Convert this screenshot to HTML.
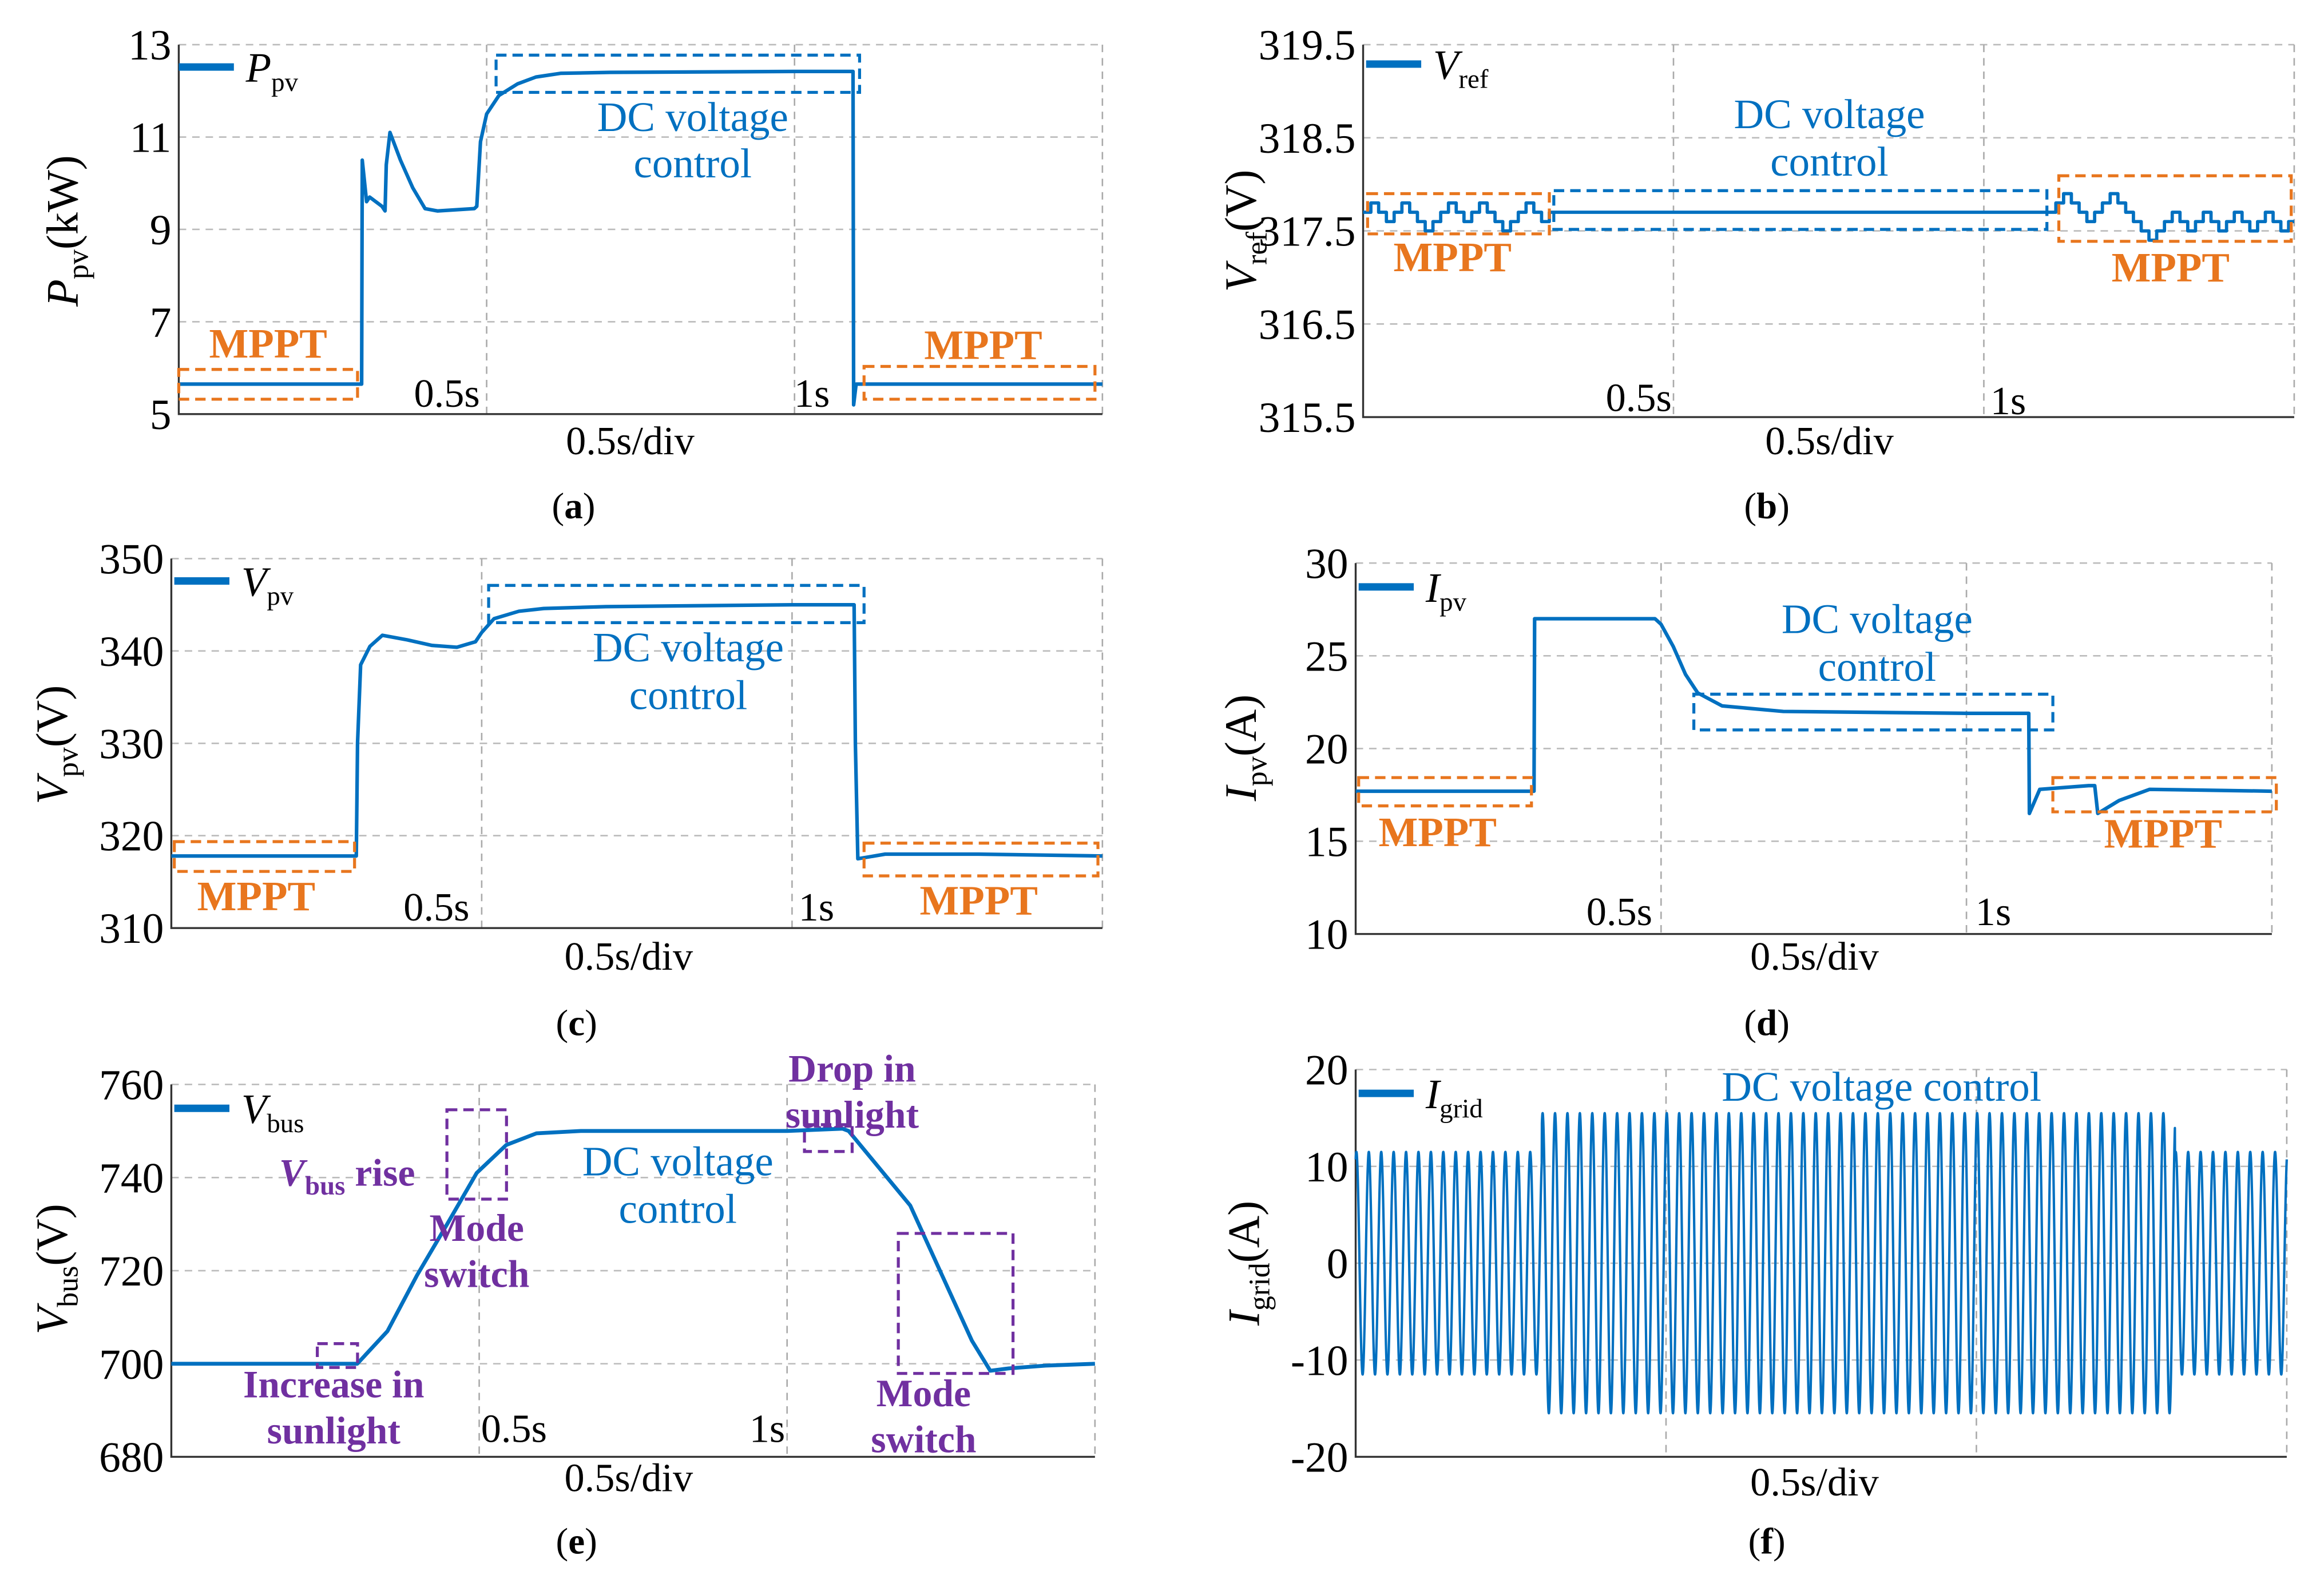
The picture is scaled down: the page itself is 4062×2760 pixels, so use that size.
<!DOCTYPE html>
<html><head><meta charset="utf-8">
<style>
html,body{margin:0;padding:0;background:#fff;}
svg{display:block;}
text{font-family:"Liberation Serif",serif;}
</style></head>
<body>
<svg id="fig" xmlns="http://www.w3.org/2000/svg" width="4062" height="2760" viewBox="0 0 1560 1060" preserveAspectRatio="none">
<rect width="1560" height="1060" fill="#fff"/>
</svg>
<script>
// ---------- data ----------
const aTime=[0,0.297,0.298,0.305,0.31,0.33,0.335,0.337,0.343,0.36,0.38,0.40,0.42,0.48,0.484,0.49,0.50,0.52,0.55,0.58,0.62,0.7,1.0,1.095,1.096,1.1,1.5];
const aVal=[5.65,5.65,10.5,9.6,9.7,9.5,9.4,10.4,11.1,10.5,9.9,9.45,9.4,9.45,9.5,10.9,11.5,11.9,12.15,12.3,12.38,12.4,12.42,12.42,5.2,5.65,5.65];
const aTicks=[13,11,9,7,5];

const bStep=0.0125;
const bMppt1=[317.7,317.8,317.7,317.6,317.7,317.8,317.7,317.6,317.5,317.6,317.7,317.8,317.7,317.6,317.7,317.8,317.7,317.6,317.5,317.6,317.7,317.8,317.7,317.6];
const bFlat=317.7;
const bMppt2=[317.8,317.9,317.8,317.7,317.6,317.7,317.8,317.9,317.8,317.7,317.6,317.5,317.4,317.5,317.6,317.7,317.6,317.5,317.6,317.7,317.6,317.5,317.6,317.7,317.6,317.5,317.6,317.7,317.6,317.5,317.6];
const bSwitch=[0.3,1.116];
const bTicks=[319.5,318.5,317.5,316.5,315.5];

const cTime=[0,0.298,0.3,0.305,0.32,0.34,0.38,0.42,0.46,0.49,0.5,0.52,0.56,0.6,0.7,1.0,1.1,1.102,1.106,1.15,1.3,1.5];
const cVal=[317.8,317.8,330,338.5,340.5,341.7,341.2,340.6,340.4,341,342,343.5,344.3,344.6,344.8,345,345,330,317.5,318,318,317.8];
const cTicks=[350,340,330,320,310];

const dTime=[0,0.292,0.293,0.49,0.5,0.52,0.54,0.56,0.6,0.7,1.0,1.102,1.103,1.12,1.2,1.21,1.215,1.25,1.3,1.5];
const dVal=[17.7,17.7,27,27,26.7,25.5,24,23,22.3,22,21.9,21.9,16.5,17.8,18,18,16.5,17.2,17.8,17.7];
const dTicks=[30,25,20,15,10];

const eTime=[0,0.302,0.351,0.399,0.448,0.496,0.544,0.593,0.665,1.0,1.09,1.10,1.20,1.30,1.33,1.36,1.42,1.5];
const eVal=[700,700,707,719,730,741,747,749.5,750,750,750.5,750,734,705,698.5,699,699.6,700];
const eTicks=[760,740,720,700,680];

const fSegTime=[0,0.3,1.32,1.5];
const fSegAmp=[11.5,15.5,11.5];
const fFreq=50;
const fTicks=[20,10,0,-10,-20];

// ---------- helpers ----------
const NS='http://www.w3.org/2000/svg';
const svg=document.getElementById('fig');
function mk(tag,attrs,parent){const e=document.createElementNS(NS,tag);for(const k in attrs)e.setAttribute(k,attrs[k]);(parent||svg).appendChild(e);return e;}
function txt(x,y,s,opt,parent){const o=Object.assign({x:x,y:y,'font-size':26,'text-anchor':'middle',fill:'#000'},opt||{});const t=mk('text',o,parent);t.textContent=s;return t;}
const BLUE='#0070C0',ORANGE='#E8761E',PURPLE='#7030A0';

function makeAxes(name,x0,x1,y0,y1,ymin,ymax,ticks,fmt,tsize){
  const g=mk('g',{});
  
  
  const ax={x0,x1,y0,y1,ymin,ymax,g,
    X:t=>x0+(t/1.5)*(x1-x0),
    Y:v=>y1-(v-ymin)/(ymax-ymin)*(y1-y0)};
  ticks.forEach(v=>{
    const y=ax.Y(v);
    if(v!==ymin){const l=mk('line',{x1:x0,x2:x1,y1:y,y2:y,stroke:'#bbb','stroke-width':1,'stroke-dasharray':'5,4'},g);
      }
    const t=txt(x0-5,y+10,fmt?fmt(v):String(v),{'text-anchor':'end','font-size':tsize||29},g);
    
  });
  [0.5,1.0,1.5].forEach(tt=>{const x=ax.X(tt);
    const l=mk('line',{x1:x,x2:x,y1:y0,y2:y1,stroke:'#aaa','stroke-width':1,'stroke-dasharray':'5,4'},g);
    });
  const axl=mk('path',{d:`M${x0},${y0} L${x0},${y1} L${x1},${y1}`,fill:'none',stroke:'#333','stroke-width':1.3},g);
  
  return ax;
}
function line(ax,ts,vs,name,w){
  const d=ts.map((t,i)=>(i?'L':'M')+ax.X(t).toFixed(2)+','+ax.Y(vs[i]).toFixed(2)).join(' ');
  const p=mk('path',{d:d,fill:'none',stroke:BLUE,'stroke-width':w||2.4,'stroke-linejoin':'round'},ax.g);
  
  return p;
}
function box(x,y,w,h,col,name){const r=mk('rect',{x,y,width:w,height:h,fill:'none',stroke:col,'stroke-width':2,'stroke-dasharray':'7,4'});
  }
function label(x,y,s,col,size,bold,name){const t=txt(x,y,s,{fill:col,'font-size':size,'font-weight':bold?'bold':'normal'});
  return t;}
function caption(x,y,letter,name){const t=mk('text',{x:x,y:y,'font-size':25,'text-anchor':'middle',fill:'#000'});
  
  t.appendChild(document.createTextNode('('));const b=mk('tspan',{'font-weight':'bold'},t);b.textContent=letter;
  t.appendChild(document.createTextNode(')'));}
function legend(x,y,main,sub,name){
  const l=mk('line',{x1:x,x2:x+37,y1:y,y2:y,stroke:BLUE,'stroke-width':5});
  
  const t=mk('text',{x:x+45,y:y+10,'font-size':28,'font-style':'italic',fill:'#000'});
  
  t.appendChild(document.createTextNode(main));
  const s=mk('tspan',{'font-size':18,'font-style':'normal',dy:6},t);s.textContent=sub;
}
function ylabel(x,y,main,sub,unit,name){
  const t=mk('text',{x:0,y:0,'font-size':30,'text-anchor':'middle',transform:`translate(${x},${y}) rotate(-90)`,fill:'#000'});
  
  const m=mk('tspan',{'font-style':'italic'},t);m.textContent=main;
  const s=mk('tspan',{'font-size':20,dy:7},t);s.textContent=sub;
  const u=mk('tspan',{dy:-7},t);u.textContent=unit;
}
function xtext(x,y,s,name){label(x,y,s,'#000',27,false,name);}

// ---------- (a) ----------
let ax=makeAxes('panel-a-axes',120,740,30,278,5,13,aTicks);
line(ax,aTime,aVal,'ppv-line');
box(333,37,244,25,BLUE,'dc-control-box-a');
box(120,248,120,20,ORANGE,'mppt-box-a1');box(580,246,155,22,ORANGE,'mppt-box-a2');
label(465,88,'DC voltage',BLUE,28,false,'dc-text-a');label(465,119,'control',BLUE,28,false,'dc-text-a2');
label(180,240,'MPPT',ORANGE,28,true,'mppt-label-a1');label(660,241,'MPPT',ORANGE,28,true,'mppt-label-a2');
xtext(300,273,'0.5s','time-05-a');xtext(545,273,'1s','time-1-a');
xtext(423,305,'0.5s/div','x-axis-title-a');caption(385,348,'a','caption-a');
legend(120,45,'P','pv','legend-ppv');ylabel(52,155,'P','pv','(kW)','y-axis-title-a');

// ---------- (b) ----------
ax=makeAxes('panel-b-axes',915,1540,30,280,315.5,319.5,bTicks,v=>v.toFixed(1),29);
(function(){const ts=[],vs=[];
  bMppt1.forEach((v,i)=>{ts.push(i*bStep,(i+1)*bStep);vs.push(v,v);});
  ts.push(bSwitch[0],bSwitch[1]);vs.push(bFlat,bFlat);
  bMppt2.forEach((v,i)=>{const t0=bSwitch[1]+i*bStep;ts.push(t0,Math.min(1.5,t0+bStep));vs.push(v,v);});
  line(ax,ts,vs,'vref-line',2.2);})();
box(1043,128,331,26,BLUE,'dc-control-box-b');
box(918,130,122,27,ORANGE,'mppt-box-b1');box(1382,118,156,44,ORANGE,'mppt-box-b2');
label(1228,86,'DC voltage',BLUE,28,false,'dc-text-b');label(1228,118,'control',BLUE,28,false,'dc-text-b2');
label(975,182,'MPPT',ORANGE,28,true,'mppt-label-b1');label(1457,189,'MPPT',ORANGE,28,true,'mppt-label-b2');
xtext(1100,276,'0.5s','time-05-b');xtext(1348,278,'1s','time-1-b');
xtext(1228,305,'0.5s/div','x-axis-title-b');caption(1186,348,'b','caption-b');
legend(917,43,'V','ref','legend-vref');ylabel(843,155,'V','ref','(V)','y-axis-title-b');

// ---------- (c) ----------
ax=makeAxes('panel-c-axes',115,740,375,623,310,350,cTicks);
line(ax,cTime,cVal,'vpv-line');
box(328,393,252,25,BLUE,'dc-control-box-c');
box(117,565,121,20,ORANGE,'mppt-box-c1');box(580,566,157,22,ORANGE,'mppt-box-c2');
label(462,444,'DC voltage',BLUE,28,false,'dc-text-c');label(462,476,'control',BLUE,28,false,'dc-text-c2');
label(172,611,'MPPT',ORANGE,28,true,'mppt-label-c1');label(657,614,'MPPT',ORANGE,28,true,'mppt-label-c2');
xtext(293,618,'0.5s','time-05-c');xtext(548,618,'1s','time-1-c');
xtext(422,651,'0.5s/div','x-axis-title-c');caption(387,695,'c','caption-c');
legend(117,390,'V','pv','legend-vpv');ylabel(45,500,'V','pv','(V)','y-axis-title-c');

// ---------- (d) ----------
ax=makeAxes('panel-d-axes',910,1525,378,627,10,30,dTicks);
line(ax,dTime,dVal,'ipv-line');
box(1137,466,241,24,BLUE,'dc-control-box-d');
box(912,522,116,19,ORANGE,'mppt-box-d1');box(1378,522,150,23,ORANGE,'mppt-box-d2');
label(1260,425,'DC voltage',BLUE,28,false,'dc-text-d');label(1260,457,'control',BLUE,28,false,'dc-text-d2');
label(965,568,'MPPT',ORANGE,28,true,'mppt-label-d1');label(1452,569,'MPPT',ORANGE,28,true,'mppt-label-d2');
xtext(1087,621,'0.5s','time-05-d');xtext(1338,621,'1s','time-1-d');
xtext(1218,651,'0.5s/div','x-axis-title-d');caption(1186,695,'d','caption-d');
legend(912,394,'I','pv','legend-ipv');ylabel(843,502,'I','pv','(A)','y-axis-title-d');

// ---------- (e) ----------
ax=makeAxes('panel-e-axes',115,735,728,978,680,760,eTicks);
line(ax,eTime,eVal,'vbus-line',2.6);
box(213,902,27,16,PURPLE,'increase-box');box(300,745,40,60,PURPLE,'mode-switch-box1');
box(540,755,32,18,PURPLE,'drop-box');box(603,828,77,94,PURPLE,'mode-switch-box2');
label(224,938,'Increase in',PURPLE,26,true,'increase-text');label(224,969,'sunlight',PURPLE,26,true,'increase-text2');
(function(){const t=mk('text',{x:233,y:796,'font-size':26,'font-weight':'bold','text-anchor':'middle',fill:PURPLE});
 
 const a=mk('tspan',{'font-style':'italic'},t);a.textContent='V';const b=mk('tspan',{'font-size':18,dy:6},t);b.textContent='bus';
 const c=mk('tspan',{dy:-6},t);c.textContent=' rise';})();
label(320,833,'Mode',PURPLE,26,true,'mode-text1');label(320,864,'switch',PURPLE,26,true,'mode-text1b');
label(572,726,'Drop in',PURPLE,26,true,'drop-text');label(572,757,'sunlight',PURPLE,26,true,'drop-text2');
label(620,944,'Mode',PURPLE,26,true,'mode-text2');label(620,975,'switch',PURPLE,26,true,'mode-text2b');
label(455,789,'DC voltage',BLUE,28,false,'dc-text-e');label(455,821,'control',BLUE,28,false,'dc-text-e2');
xtext(345,968,'0.5s','time-05-e');xtext(515,968,'1s','time-1-e');
xtext(422,1001,'0.5s/div','x-axis-title-e');caption(387,1043,'e','caption-e');
legend(117,744,'V','bus','legend-vbus');ylabel(45,852,'V','bus','(V)','y-axis-title-e');

// ---------- (f) ----------
ax=makeAxes('panel-f-axes',910,1535,718,978,-20,20,fTicks);
(function(){const ts=[],vs=[];const N=6000;
  for(let i=0;i<=N;i++){const t=1.5*i/N;let k=0;while(k<fSegAmp.length-1&&t>=fSegTime[k+1])k++;
    ts.push(t);vs.push(fSegAmp[k]*Math.sin(2*Math.PI*fFreq*t+1.2));}
  line(ax,ts,vs,'igrid-line',1.6);})();
label(1263,739,'DC voltage control',BLUE,28,false,'dc-text-f');
xtext(1218,1004,'0.5s/div','x-axis-title-f');caption(1186,1043,'f','caption-f');
legend(912,734,'I','grid','legend-igrid');ylabel(845,848,'I','grid','(A)','y-axis-title-f');
</script>
</body></html>
